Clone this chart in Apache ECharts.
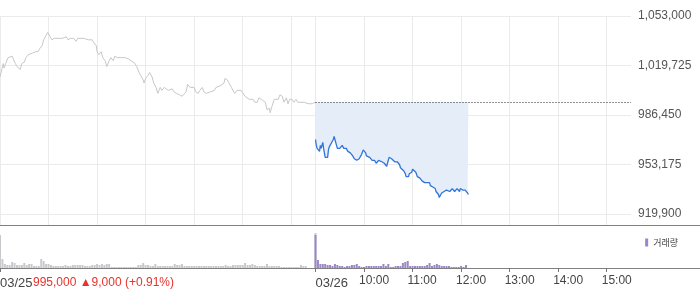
<!DOCTYPE html>
<html>
<head>
<meta charset="utf-8">
<script src="https://cdn.jsdelivr.net/npm/echarts@6/dist/echarts.min.js"></script>
<style>html,body{margin:0;padding:0;background:#fff}#c{width:700px;height:289px}</style>
</head>
<body>
<div id="c"></div>
<script>
// ---------- data (minutes after 09:00 of each session) ----------
const dateLabels = ['03/25', '03/26'];
const closePrice = 995000;      // 03/25 close (reference line)
const priceChange = 9000;
const priceChangePct = 0.91;
const priceTicks = [919900, 953175, 986450, 1019725, 1053000];
const timeTickLabels = ['10:00', '11:00', '12:00', '13:00', '14:00', '15:00'];

const day1Minutes = [
  0,1,4,5,7,10,12,15,16,19,
  21,23,25,27,30,32,35,37,40,42,
  44,47,49,52,54,57,59,62,64,67,
  69,72,74,77,79,82,84,87,89,91,
  94,96,99,101,104,106,109,111,114,116,
  119,120,122,125,127,130,132,135,137,140,
  142,145,147,150,152,155,157,159,162,164,
  167,169,172,174,177,178,180,183,185,188,
  190,193,195,198,200,203,205,208,210,213,
  215,218,220,222,225,227,230,232,235,237,
  240,242,245,247,250,252,255,257,260,262,
  265,267,269,272,274,277,278,281,283,286,
  288,290,293,295,298,300,303,305,308,310,
  313,315,318,320,323,325,328,330,333,334,
  336,339,341,344,346,349,351,354,356,358,
  361,363,366,368,371,373,376,378,381,383,
  386,388,390
];
const day1Prices = [
  1012000,1013000,1021000,1018000,1021000,1025000,1025000,1026000,1025000,1021000,
  1019000,1019000,1017000,1021000,1022000,1025000,1027000,1026000,1028000,1027000,
  1029000,1029000,1031000,1033000,1037000,1040000,1042000,1039000,1037000,1038000,
  1039000,1038000,1037000,1038000,1038000,1039000,1037000,1038000,1037000,1038000,
  1036000,1038000,1038000,1039000,1038000,1037000,1037000,1037000,1037000,1035000,
  1033000,1029000,1027000,1029000,1025000,1023000,1019000,1023000,1025000,1023000,
  1026000,1025000,1025000,1025000,1025000,1025000,1026000,1024000,1023000,1022000,
  1021000,1019000,1015000,1013000,1010000,1008000,1011000,1013000,1015000,1012000,
  1008000,1005000,1001000,1005000,1003000,1005000,1005000,1003000,1003000,1004000,
  1002000,1001000,1002000,1000000,999000,1000000,1002000,1007000,1005000,1005000,
  1005000,1002000,1001000,1003000,1005000,1002000,1001000,1002000,1002000,1003000,
  1003000,1005000,1005000,1006000,1007000,1008000,1011000,1010000,1008000,1005000,
  1004000,1001000,1003000,1002000,1003000,1002000,999000,998000,997000,997000,
  997000,995000,995000,998000,997000,998000,995000,990000,991000,988000,
  992000,997000,998000,997000,1000000,999000,995000,998000,994000,997000,
  997000,995000,997000,995000,995000,995000,995000,995000,994000,995000,
  994000,994000,995000
];

const day2Minutes = [
  0,1,2,4,5,6,7,9,10,11,
  12,14,15,16,17,19,20,21,22,23,
  25,26,27,28,30,31,32,33,35,36,
  37,38,40,41,42,43,44,46,47,48,
  49,51,52,53,54,56,57,58,59,60,
  62,63,64,65,67,68,69,70,72,73,
  74,75,77,78,79,80,82,83,84,85,
  86,88,89,90,91,93,94,95,96,98,
  99,100,101,103,104,105,106,107,109,110,
  111,112,114,115,116,117,119,120,121,122,
  124,125,126,127,129,130,131,132,133,135,
  136,137,138,140,141,142,143,145,146,147,
  148,149,151,152,153,154,156,157,158,159,
  161,162,163,164,166,167,168,169,170,172,
  173,174,175,177,178,179,180,182,183,184,
  185,187,188,189
];
const day2Prices = [
  970000,966000,964000,965000,962000,966000,964000,968000,964000,961000,
  958000,958000,958000,963000,965000,966000,968000,968000,970000,972000,
  968000,966000,964000,963000,964000,965000,964000,966000,964000,965000,
  964000,964000,962000,962000,961000,961000,960000,959000,958000,957000,
  957000,956000,957000,956000,957000,958000,960000,961000,963000,962000,
  961000,959000,958000,959000,958000,957000,957000,956000,955000,956000,
  955000,954000,954000,956000,957000,956000,955000,954000,955000,954000,
  953000,952000,954000,956000,958000,957000,957000,956000,957000,955000,
  956000,954000,955000,954000,953000,951000,951000,951000,949000,948000,
  947000,945000,944000,945000,947000,947000,948000,950000,951000,949000,
  948000,947000,945000,945000,944000,943000,943000,942000,941000,941000,
  941000,941000,941000,940000,941000,939000,939000,938000,938000,937000,
  937000,935000,934000,933000,931000,932000,934000,933000,934000,935000,
  934000,936000,935000,937000,935000,936000,935000,937000,936000,935000,
  936000,935000,937000,936000,935000,937000,938000,936000,935000,935000,
  936000,935000,934000,933000
];

// volume per 3-minute bin (relative units)
const volumeStep = 3;
const day1Volume = [
  33,9,4,3,3,6,5,3,3,3,
  5,3,4,4,2,2,2,9,7,4,
  4,3,2,2,2,2,2,3,2,2,
  3,3,3,3,3,2,2,2,3,3,
  4,3,4,3,4,4,1,1,1,1,
  1,1,1,1,1,1,1,3,3,5,
  3,3,2,2,4,2,2,2,2,2,
  2,2,4,3,3,4,2,2,2,2,
  2,2,2,2,2,2,2,2,2,2,
  2,2,2,3,2,2,3,3,3,3,
  3,5,3,3,4,3,2,2,2,2,
  4,2,2,2,2,2,1,1,1,1,
  1,1,1,1,3,2,2,0,0,0,
  35
];
const day2Volume = [
  33,8,4,4,4,3,3,2,4,3,
  2,2,1,2,2,3,3,4,2,1,
  1,2,2,2,2,2,2,2,4,2,
  4,1,1,2,2,2,5,6,7,2,
  2,2,2,2,2,2,3,5,2,3,
  4,3,2,2,2,2,1,1,1,1,
  2,1,3
];

// ---------- layout constants ----------
const SESSION = 390;             // minutes per session (09:00-15:30)
const X_MAX = 780;
const PLOT_W = 631;
const gridMinutes = [0,60,120,180,240,300,360,390,450,510,570,630,690,750];
const tickMinutes = [0,390,450,510,570,630,690,750];
const labelMinutes = [450,510,570,630,690,750];
// labels start ~5px left of their tick
const LABEL_SHIFT = 5 * X_MAX / PLOT_W;
const labelPos = labelMinutes.map(m => m - LABEL_SHIFT);

const fmt = v => v.toLocaleString('en-US');
const zip = (ts, vs, off) => ts.map((t, i) => [t + off, vs[i]]);
const d1 = zip(day1Minutes, day1Prices, 0);
const d2 = zip(day2Minutes, day2Prices, SESSION);
const v1 = day1Volume.map((v, i) => [i * volumeStep, v]);
const v2 = day2Volume.map((v, i) => [SESSION + i * volumeStep, v]);

const FONT = 'Arial, "Liberation Sans", sans-serif';
const GRID_C = '#ebebeb';

const chart = echarts.init(document.getElementById('c'));
chart.setOption({
  animation: false,
  grid: [
    {left: 0, top: 16, width: PLOT_W, height: 209},
    {left: 0, top: 225, width: PLOT_W, height: 43}
  ],
  legend: {
    data: ['거래량'], right: 17, top: 233, icon: 'rect',
    itemWidth: 3, itemHeight: 8,
    textStyle: {fontSize: 9, color: '#444', fontFamily: '"Noto Sans CJK KR", sans-serif'}
  },
  xAxis: [
    {
      type: 'value', gridIndex: 0, min: 0, max: X_MAX,
      axisLine: {show: false},
      axisTick: {show: false, customValues: gridMinutes},
      axisLabel: {show: false},
      splitLine: {show: true, lineStyle: {color: GRID_C, width: 1}}
    },
    {
      type: 'value', gridIndex: 1, min: 0, max: X_MAX,
      axisLine: {show: false},
      axisTick: {show: true, customValues: tickMinutes, length: 4, lineStyle: {color: '#777'}},
      axisLabel: {
        customValues: labelPos, margin: 7, fontSize: 12, color: '#444', fontFamily: FONT,
        align: 'left',
        formatter: v => {
          let best = 0;
          labelPos.forEach((p, i) => { if (Math.abs(p - v) < Math.abs(labelPos[best] - v)) best = i; });
          return timeTickLabels[best];
        }
      },
      splitLine: {show: false}
    }
  ],
  yAxis: [
    {
      type: 'value', gridIndex: 0, position: 'right', min: 912500, max: 1053000,
      axisLine: {show: false},
      axisTick: {show: false, customValues: priceTicks},
      axisLabel: {customValues: priceTicks, margin: 7, fontSize: 12, color: '#555', fontFamily: FONT,
        formatter: v => fmt(v)},
      splitLine: {show: true, lineStyle: {color: GRID_C, width: 1}}
    },
    {
      type: 'value', gridIndex: 1, min: 0, max: 43, show: false
    }
  ],
  series: [
    {
      name: '03/25', type: 'line', xAxisIndex: 0, yAxisIndex: 0, data: d1,
      showSymbol: false, symbol: 'none',
      lineStyle: {color: '#c6c7cc', width: 1}
    },
    {
      name: '03/26', type: 'line', xAxisIndex: 0, yAxisIndex: 0, data: d2,
      showSymbol: false, symbol: 'none',
      lineStyle: {color: '#2f74d9', width: 1.3},
      areaStyle: {color: '#e5edf9', opacity: 1, origin: closePrice},
      markLine: {
        silent: true, symbol: 'none', label: {show: false},
        lineStyle: {type: [1, 2], color: '#222', width: 1},
        data: [[{coord: [SESSION, closePrice]}, {coord: [X_MAX, closePrice]}]]
      }
    },
    {
      name: '거래량(03/25)', type: 'bar', xAxisIndex: 1, yAxisIndex: 1, data: v1,
      barWidth: 2, itemStyle: {color: '#c8c9cd'}
    },
    {
      name: '거래량', type: 'bar', xAxisIndex: 1, yAxisIndex: 1, data: v2,
      barWidth: 2, barGap: '-100%', itemStyle: {color: '#9a86c8'}
    }
  ]
});

const x0 = chart.convertToPixel({xAxisIndex: 1}, 0);
const xDay2 = chart.convertToPixel({xAxisIndex: 1}, SESSION);
const LABEL_Y = 283;
chart.setOption({
  graphic: [
    {type: 'line', shape: {x1: 0, y1: 225.5, x2: 700, y2: 225.5}, style: {stroke: '#808080', lineWidth: 1}, silent: true},
    {type: 'line', shape: {x1: 0, y1: 268.5, x2: 700, y2: 268.5}, style: {stroke: '#808080', lineWidth: 1}, silent: true},
    {type: 'text', x: x0, y: LABEL_Y, style: {text: dateLabels[0], fill: '#444', font: '13px ' + FONT, textAlign: 'left', textVerticalAlign: 'middle'}},
    {type: 'text', x: x0 + 33, y: LABEL_Y, style: {
      text: fmt(closePrice) + ' ▲' + fmt(priceChange) + ' (+' + priceChangePct.toFixed(2) + '%)',
      fill: '#e8322b', font: '12px ' + FONT, textAlign: 'left', textVerticalAlign: 'middle'}},
    {type: 'text', x: xDay2, y: LABEL_Y, style: {text: dateLabels[1], fill: '#444', font: '13px ' + FONT, textAlign: 'left', textVerticalAlign: 'middle'}}
  ]
});
</script>
</body>
</html>
